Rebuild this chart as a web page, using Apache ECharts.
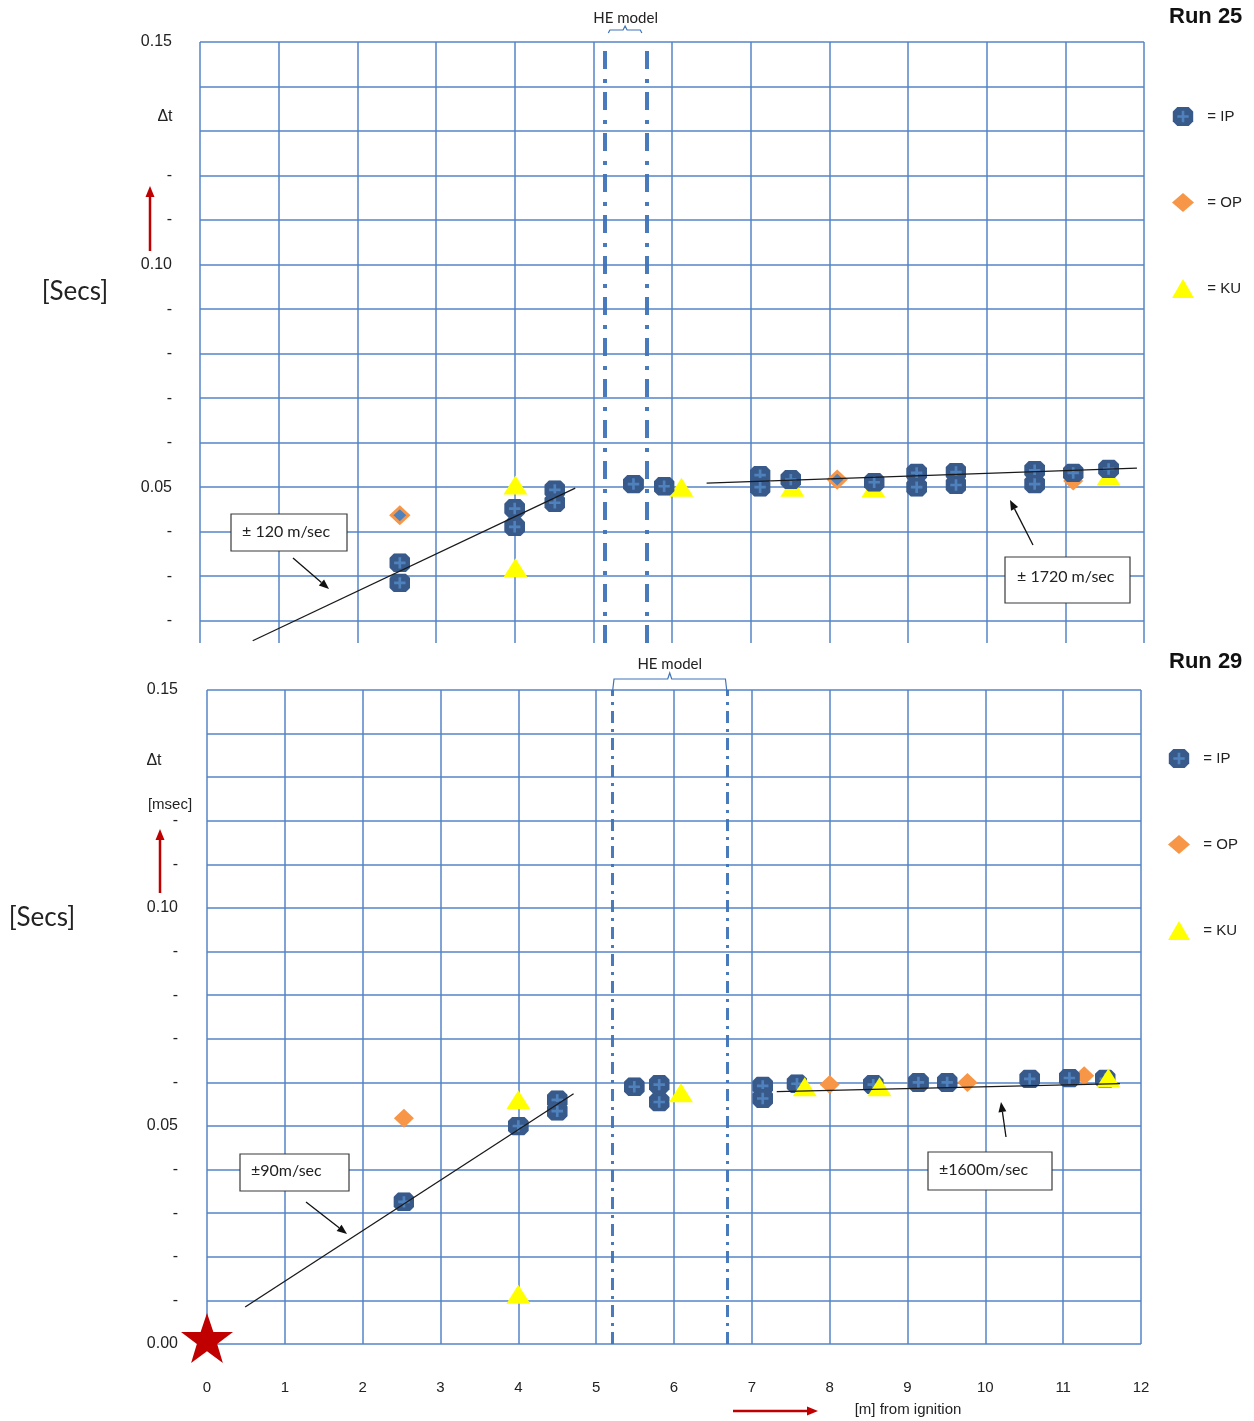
<!DOCTYPE html>
<html>
<head>
<meta charset="utf-8">
<script src="https://cdn.jsdelivr.net/npm/echarts@6.0.0/dist/echarts.min.js"></script>
<style>
  html, body { margin: 0; padding: 0; background: #ffffff; }
  #chart { width: 1254px; height: 1421px; }
</style>
</head>
<body>
<div id="chart"></div>
<script>
// Arrival-time delay Δt [s] against distance from ignition [m], Run 25 and Run 29.

// Axis ticks and their texts
const xTickText = ['0', '1', '2', '3', '4', '5', '6', '7', '8', '9', '10', '11', '12'];
const yTickValues = [0.00, 0.01, 0.02, 0.03, 0.04, 0.05, 0.06, 0.07, 0.08, 0.09, 0.10, 0.11, 0.12, 0.13, 0.14, 0.15];
const yTickText = ['0.00', '-', '-', '-', '-', '0.05', '-', '-', '-', '-', '0.10', '-', '-', '', '', '0.15'];

// Run 25
const run25IP = [
  [2.54, 0.0330], [2.54, 0.0285], [4.00, 0.0452], [4.00, 0.0411], [4.51, 0.0494], [4.51, 0.0465],
  [5.51, 0.0507], [5.90, 0.0502], [7.12, 0.0527], [7.12, 0.0500], [7.51, 0.0517], [8.57, 0.0511],
  [9.11, 0.0532], [9.11, 0.0500], [9.61, 0.0534], [9.61, 0.0505], [10.61, 0.0538], [10.61, 0.0507],
  [11.10, 0.0532], [11.55, 0.0541]
];
const run25OPOutlined = [[2.54, 0.0437], [8.10, 0.0517]];
const run25OP = [[9.61, 0.0512], [11.10, 0.0514]];
const run25KU = [[4.01, 0.0505], [4.01, 0.0319], [6.12, 0.0500], [7.53, 0.0500], [8.56, 0.0498], [11.55, 0.0525]];
const run25TrendNear = [[0.67, 0.0155], [4.77, 0.0498]];
const run25TrendFar = [[6.44, 0.0509], [11.91, 0.0543]];
const run25HEModel = [5.14, 5.68];

// Run 29
const run29IP = [
  [2.53, 0.0326], [4.00, 0.0500], [4.50, 0.0560], [4.50, 0.0534], [5.49, 0.0590], [5.81, 0.0595],
  [5.81, 0.0555], [7.14, 0.0592], [7.14, 0.0563], [7.58, 0.0597], [8.56, 0.0595], [9.14, 0.0600],
  [9.51, 0.0600], [10.57, 0.0608], [11.08, 0.0610], [11.54, 0.0608]
];
const run29OP = [[2.53, 0.0518], [8.00, 0.0595], [9.77, 0.0600], [11.27, 0.0615]];
const run29KU = [[4.00, 0.0560], [4.00, 0.0114], [6.09, 0.0576], [7.68, 0.0590], [8.64, 0.0590], [11.58, 0.0610]];
const run29TrendNear = [[0.49, 0.0085], [4.71, 0.0574]];
const run29TrendFar = [[7.32, 0.0579], [11.73, 0.0597]];
const run29HEModel = [5.21, 6.68];
const ignition = [[0, 0.0014]];

// Marker shapes
const ipSvg = "<svg xmlns='http://www.w3.org/2000/svg' width='22' height='20' viewBox='0 0 22 20'>" +
  "<path d='M5 0H17L22 5V15L17 20H5L0 15V5Z' fill='#385a8b'/>" +
  "<path d='M9.6 4H12.4V8.6H17V11.4H12.4V16H9.6V11.4H5V8.6H9.6Z' fill='#4f81bd'/></svg>";
const ipSymbol = 'image://data:image/svg+xml;charset=utf-8,' + encodeURIComponent(ipSvg);
const starSymbol = 'path://M50 0L61.8 35.1L98.1 35.1L68.8 56.8L79.4 91.3L50 70L20.6 91.3L31.2 56.8L1.9 35.1L38.2 35.1Z';

const gridColor = '#5584c6';
const labelFont = 'Liberation Sans, Arial, sans-serif';
const noteFont = 'Lato, Open Sans, sans-serif';

function yLabel(v) {
  const i = Math.round(v * 100);
  return yTickText[i] !== undefined ? yTickText[i] : '';
}

function ipSeries(data, idx) {
  return { name: 'IP', type: 'scatter', xAxisIndex: idx, yAxisIndex: idx, data: data,
    symbol: ipSymbol, symbolSize: [21, 19], itemStyle: { opacity: 1 }, clip: false };
}
function opSeries(plain, outlined, idx) {
  const items = outlined.map(p => ({ value: p, symbolSize: [17, 16],
    itemStyle: { color: '#4f81bd', borderColor: '#f79646', borderWidth: 3, opacity: 1 } }));
  return { name: 'OP', type: 'scatter', xAxisIndex: idx, yAxisIndex: idx,
    data: items.concat(plain), symbol: 'diamond', symbolSize: [20, 19],
    itemStyle: { color: '#f79646', opacity: 1 }, clip: false };
}
function kuSeries(data, idx) {
  return { name: 'KU', type: 'scatter', xAxisIndex: idx, yAxisIndex: idx, data: data,
    symbol: 'triangle', symbolSize: [24, 19], itemStyle: { color: '#ffff00', opacity: 1 }, clip: false };
}
function trendSeries(data, idx, heLines, dash, width) {
  const s = { type: 'line', xAxisIndex: idx, yAxisIndex: idx, data: data, showSymbol: false,
    symbol: 'none', lineStyle: { color: '#1a1a1a', width: 1.3 }, z: 5, silent: true };
  if (heLines) {
    s.markLine = { silent: true, symbol: ['none', 'none'], label: { show: false },
      lineStyle: { color: '#3f74b8', width: width, type: dash, opacity: 0.95 },
      data: heLines.map(v => ({ xAxis: v })) };
  }
  return s;
}

function xAxisFor(idx, showLabels) {
  return { gridIndex: idx, type: 'value', min: 0, max: 12, interval: 1,
    axisLine: { show: false }, axisTick: { show: false },
    axisLabel: { show: showLabels, margin: 36, fontSize: 15, fontFamily: labelFont, color: '#222',
      formatter: v => xTickText[Math.round(v)] },
    splitLine: { show: true, lineStyle: { color: gridColor, width: 1.5 } } };
}

const topTicks = yTickValues.filter(v => v >= 0.02);

const chart = echarts.init(document.getElementById('chart'), null, { renderer: 'canvas' });

chart.setOption({
  animation: false,
  backgroundColor: '#ffffff',
  title: [
    { text: 'Run 25', left: 1164, top: 1, textStyle: { fontFamily: labelFont, fontSize: 22, fontWeight: 'bold', color: '#111' } },
    { text: 'Run 29', left: 1164, top: 646, textStyle: { fontFamily: labelFont, fontSize: 22, fontWeight: 'bold', color: '#111' } }
  ],
  legend: [
    { orient: 'vertical', left: 1167, top: 102, itemGap: 67, itemWidth: 22, itemHeight: 19,
      data: ['IP', 'OP', 'KU'], formatter: n => '  = ' + n, selectedMode: false,
      textStyle: { fontFamily: labelFont, fontSize: 15, color: '#222' } },
    { orient: 'vertical', left: 1163, top: 744, itemGap: 67, itemWidth: 22, itemHeight: 19,
      data: ['IP', 'OP', 'KU'], formatter: n => '  = ' + n, selectedMode: false,
      textStyle: { fontFamily: labelFont, fontSize: 15, color: '#222' } }
  ],
  grid: [
    { left: 200, top: 42, width: 944, height: 601 },
    { left: 207, top: 690, width: 934, height: 654 }
  ],
  xAxis: [xAxisFor(0, false), xAxisFor(1, true)],
  yAxis: [
    { gridIndex: 0, type: 'value', min: 0.015, max: 0.15,
      axisLine: { show: false }, axisTick: { show: false, customValues: topTicks },
      axisLabel: { customValues: topTicks, formatter: yLabel, margin: 28, fontSize: 16, fontFamily: labelFont, color: '#222' },
      splitLine: { show: true, lineStyle: { color: gridColor, width: 1.5 } } },
    { gridIndex: 1, type: 'value', min: 0, max: 0.15, interval: 0.01,
      axisLine: { show: false }, axisTick: { show: false },
      axisLabel: { formatter: yLabel, margin: 29, fontSize: 16, fontFamily: labelFont, color: '#222' },
      splitLine: { show: true, lineStyle: { color: gridColor, width: 1.5 } } }
  ],
  series: [
    // Run 25
    kuSeries(run25KU, 0),
    opSeries(run25OP, run25OPOutlined, 0),
    ipSeries(run25IP, 0),
    trendSeries(run25TrendNear, 0, run25HEModel, [18, 9, 4, 10], 4),
    trendSeries(run25TrendFar, 0),
    // Run 29
    opSeries(run29OP, [], 1),
    ipSeries(run29IP, 1),
    kuSeries(run29KU, 1),
    trendSeries(run29TrendNear, 1, run29HEModel, [12, 6, 3, 6], 3),
    trendSeries(run29TrendFar, 1),
    { type: 'scatter', xAxisIndex: 1, yAxisIndex: 1, data: ignition, symbol: starSymbol,
      symbolSize: [52, 50], itemStyle: { color: '#c00000', opacity: 1 }, clip: false, silent: true, z: 6 }
  ]
});

// Annotations: arrows, note boxes, axis captions, model brackets
function arrow(x1, y1, x2, y2, color, lw, hl, hw) {
  const a = Math.atan2(y2 - y1, x2 - x1);
  const bx = x2 - hl * Math.cos(a), by = y2 - hl * Math.sin(a);
  const px = -Math.sin(a) * hw / 2, py = Math.cos(a) * hw / 2;
  return [
    { type: 'line', z: 100, silent: true, shape: { x1: x1, y1: y1, x2: bx, y2: by }, style: { stroke: color, lineWidth: lw } },
    { type: 'polygon', z: 100, silent: true, shape: { points: [[x2, y2], [bx + px, by + py], [bx - px, by - py]] }, style: { fill: color } }
  ];
}
function noteBox(x, y, w, h, text, tx, ty) {
  return [
    { type: 'rect', z: 100, silent: true, shape: { x: x, y: y, width: w, height: h }, style: { fill: '#ffffff', stroke: '#3a3a3a', lineWidth: 1.2 } },
    { type: 'text', z: 101, silent: true, x: tx, y: ty, style: { text: text, fontFamily: noteFont, fontSize: 16, fill: '#222', align: 'left', verticalAlign: 'middle' } }
  ];
}
function caption(text, x, y, size, font, align) {
  return { type: 'text', z: 101, silent: true, x: x, y: y,
    style: { text: text, fontFamily: font, fontSize: size, fill: '#222', align: align || 'center', verticalAlign: 'middle' } };
}
function bracket(xl, xr, yEnd, yBar, yPeak) {
  const xm = (xl + xr) / 2;
  return { type: 'polyline', z: 100, silent: true,
    shape: { points: [[xl, yEnd], [xl + 1.5, yBar], [xm - 2, yBar], [xm, yPeak], [xm + 2, yBar], [xr - 1.5, yBar], [xr, yEnd]] },
    style: { stroke: '#3f74b8', lineWidth: 1.2, fill: null } };
}

const he25L = chart.convertToPixel({ gridIndex: 0 }, [run25HEModel[0], 0.15])[0];
const he25R = chart.convertToPixel({ gridIndex: 0 }, [run25HEModel[1], 0.15])[0];
const he29L = chart.convertToPixel({ gridIndex: 1 }, [run29HEModel[0], 0.15])[0];
const he29R = chart.convertToPixel({ gridIndex: 1 }, [run29HEModel[1], 0.15])[0];

const red = '#c00000';
const graphics = [].concat(
  noteBox(231, 514, 116, 37, '± 120 m/sec', 242, 532),
  arrow(293, 558, 329, 589, '#111', 1.3, 10, 8),
  noteBox(1005, 557, 125, 46, '± 1720 m/sec', 1017, 577),
  arrow(1033, 545, 1010, 500, '#111', 1.3, 10, 8),
  noteBox(240, 1154, 109, 37, '±90m/sec', 251, 1171),
  arrow(306, 1202, 347, 1234, '#111', 1.3, 10, 8),
  noteBox(928, 1152, 124, 38, '±1600m/sec', 939, 1170),
  arrow(1006, 1137, 1001, 1102, '#111', 1.3, 10, 8),
  arrow(150, 251, 150, 186, red, 2.5, 11, 9),
  arrow(160, 893, 160, 829, red, 2.5, 11, 9),
  arrow(733, 1411, 818, 1411, red, 2.5, 11, 9),
  [
    caption('[Secs]', 75, 292, 26, noteFont),
    caption('[Secs]', 42, 918, 26, noteFont),
    caption('Δt', 165, 117, 16, labelFont),
    caption('Δt', 154, 761, 16, labelFont),
    caption('[msec]', 170, 805, 15, labelFont),
    caption('[m] from ignition', 908, 1410, 15, labelFont),
    caption('HE model', (he25L + he25R) / 2, 18, 15, noteFont),
    caption('HE model', (he29L + he29R) / 2, 664, 15, noteFont),
    bracket(he25L + 4, he25R - 5, 33, 30, 26),
    bracket(he29L, he29R, 692, 679, 673)
  ]
);
chart.setOption({ graphic: graphics });
</script>
</body>
</html>
